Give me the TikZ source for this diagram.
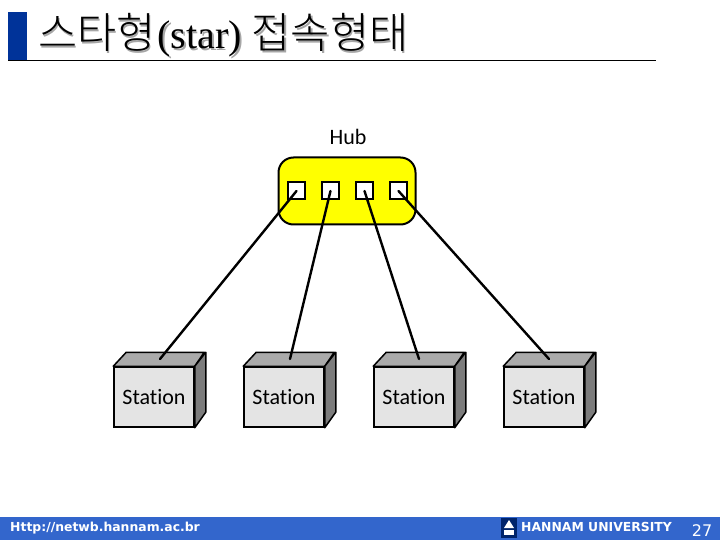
\documentclass[tikz,border=0pt]{standalone}
\usepackage{fontspec}
\setmainfont[Ligatures=NoCommon]{Carlito}
\newfontfamily\krfont{Noto Sans CJK KR Light}
\newfontfamily\serfont{Liberation Serif}
\newfontfamily\footfont{DejaVu Sans}
\definecolor{barblue}{HTML}{003399}
\definecolor{footblue}{HTML}{3366CC}
\definecolor{hubyellow}{HTML}{FFFF00}
\definecolor{frontgray}{HTML}{E4E4E4}
\definecolor{topgray}{HTML}{AAAAAA}
\definecolor{sidegray}{HTML}{7C7C7C}
\newcommand{\titletext}{{\krfont\fontsize{42.5}{44}\selectfont 스타형}\hspace{2pt}{\serfont (star)}\hspace{10pt}{\krfont\fontsize{42.5}{44}\selectfont 접속형태}}
\tikzset{
  titlelabel/.style={anchor=base west, inner sep=0pt, font=\fontsize{40}{44}\selectfont},
  hubbox/.style={draw, line width=2pt, fill=hubyellow, rounded corners=15pt, minimum width=137pt, minimum height=67pt, inner sep=0pt},
  portbox/.style={draw, line width=2pt, fill=white, minimum size=17pt, inner sep=0pt},
  stationbox/.style={draw, line width=1.5pt, fill=frontgray, minimum width=80pt, minimum height=60pt, inner sep=0pt, font=\fontsize{22}{24}\selectfont},
  topface/.style={draw, line width=1.5pt, line join=round, fill=topgray},
  sideface/.style={draw, line width=1.5pt, line join=round, fill=sidegray},
  wire/.style={line width=2.4pt, line cap=round},
  footlabel/.style={inner sep=0pt, text=white, font=\footfont\bfseries\fontsize{12.4}{14}\selectfont}
}
\begin{document}
\begin{tikzpicture}
[x=1pt, y=-1pt]
\useasboundingbox (0,0) rectangle (720,540);
% title
\fill [barblue] (8,12) rectangle (27,60);
\draw [line width=1pt] (8,60.5) -- (656,60.5);
\node (titleshadow) [titlelabel, text=black!35] at (39.5,50.5) {\titletext};
\node (title) [titlelabel] at (38,49) {\titletext};
% hub
\node (hublabel) [font=\fontsize{22}{24}\selectfont, inner sep=0pt] at (348,137) {Hub};
\node (hub) [hubbox] at (347,191) {};
\node (port1) [portbox] at (296.5,191) {};
\node (port2) [portbox] at (330.5,191) {};
\node (port3) [portbox] at (364.5,191) {};
\node (port4) [portbox] at (398.5,191) {};
% stations
\node (st1) [stationbox] at (154,397) {Station};
\draw [topface] (st1.north west) -- ++(13,-14) -- ++(78,0) -- (st1.north east) -- cycle;
\draw [sideface] (st1.north east) -- ++(11,-14) -- ++(0,60) -- (st1.south east) -- cycle;
\coordinate (top1) at (160,359);
\node (st2) [stationbox] at (284,397) {Station};
\draw [topface] (st2.north west) -- ++(13,-14) -- ++(78,0) -- (st2.north east) -- cycle;
\draw [sideface] (st2.north east) -- ++(11,-14) -- ++(0,60) -- (st2.south east) -- cycle;
\coordinate (top2) at (290,359);
\node (st3) [stationbox] at (414,397) {Station};
\draw [topface] (st3.north west) -- ++(13,-14) -- ++(78,0) -- (st3.north east) -- cycle;
\draw [sideface] (st3.north east) -- ++(11,-14) -- ++(0,60) -- (st3.south east) -- cycle;
\coordinate (top3) at (419,359);
\node (st4) [stationbox] at (544,397) {Station};
\draw [topface] (st4.north west) -- ++(13,-14) -- ++(78,0) -- (st4.north east) -- cycle;
\draw [sideface] (st4.north east) -- ++(11,-14) -- ++(0,60) -- (st4.south east) -- cycle;
\coordinate (top4) at (549,359);
% wires
\draw [wire] (port1.center) -- (top1);
\draw [wire] (port2.center) -- (top2);
\draw [wire] (port3.center) -- (top3);
\draw [wire] (port4.center) -- (top4);
% footer
\fill [footblue] (0,517) rectangle (720,540);
\node (url) [footlabel, anchor=west] at (10,528) {Http://netwb.hannam.ac.br};
\fill [barblue!70!black] (501,518) rectangle (517,538);
\fill [white] (509,520) -- (514,528) -- (504,528) -- cycle;
\fill [white] (504,530) rectangle (514,535);
\node (univ) [footlabel, anchor=west] at (521,527) {HANNAM UNIVERSITY};
\node (pagenum) [inner sep=0pt, text=white, font=\footfont\fontsize{16}{18}\selectfont] at (702,531) {27};
\end{tikzpicture}
\end{document}
